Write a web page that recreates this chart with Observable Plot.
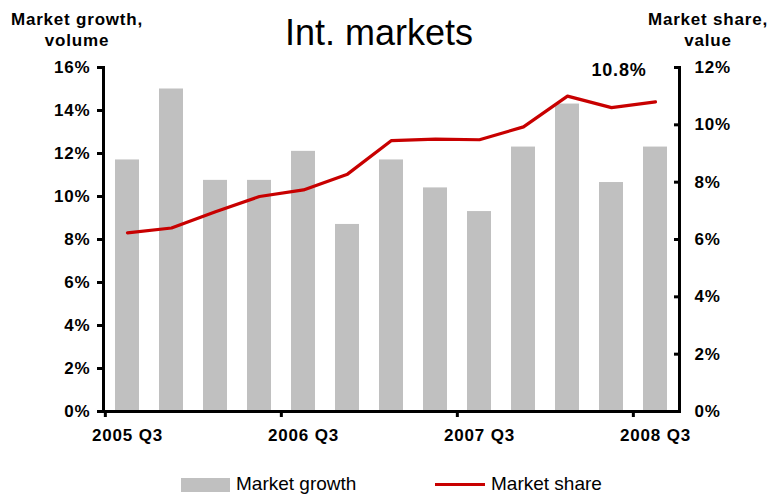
<!DOCTYPE html>
<html>
<head>
<meta charset="utf-8">
<script src="https://cdn.jsdelivr.net/npm/d3@7"></script>
<script src="https://cdn.jsdelivr.net/npm/@observablehq/plot@0.6"></script>
<style>
  html, body { margin: 0; padding: 0; background: #fff; }
  #wrap { position: relative; width: 770px; height: 495px; overflow: hidden; font-family: "Liberation Sans", Arial, sans-serif; color: #000; }
  #wrap svg { position: absolute; left: 0; top: 0; }
  .t { position: absolute; white-space: nowrap; }
  .title { font-size: 36px; left: 0; width: 758px; text-align: center; top: 12px; line-height: 42px; }
  .ax { font-size: 17px; font-weight: bold; letter-spacing: 0.8px; text-align: center; line-height: 21px; top: 9px; }
  .leg { font-size: 19px; line-height: 22px; top: 473px; }
  .sw { position: absolute; }
</style>
</head>
<body>
<div id="wrap">
  <div class="t title">Int. markets</div>
  <div class="t ax" style="left:0px;width:154px;">Market growth,<br>volume</div>
  <div class="t ax" style="left:640px;width:136px;">Market share,<br>value</div>
  <div class="sw" style="left:181px;top:478px;width:49px;height:14px;background:#c0c0c0;"></div>
  <div class="t leg" style="left:236px;">Market growth</div>
  <div class="sw" style="left:435px;top:483px;width:50px;height:3px;background:#c80000;"></div>
  <div class="t leg" style="left:491px;">Market share</div>
</div>
<script>
const quarters = ["2005 Q3","2005 Q4","2006 Q1","2006 Q2","2006 Q3","2006 Q4","2007 Q1","2007 Q2","2007 Q3","2007 Q4","2008 Q1","2008 Q2","2008 Q3"];
const growth = [11.7, 15.0, 10.75, 10.75, 12.1, 8.7, 11.7, 10.4, 9.3, 12.3, 14.3, 10.65, 12.3];
const share = [6.23, 6.4, 6.97, 7.5, 7.73, 8.28, 9.45, 9.5, 9.48, 9.93, 11.0, 10.6, 10.8];
const leftTicks = [0, 2, 4, 6, 8, 10, 12, 14, 16];
const rightTicks = [0, 2, 4, 6, 8, 10, 12];
const xLabels = ["2005 Q3", "2006 Q3", "2007 Q3", "2008 Q3"];

const leftMax = 16, rightMax = 12;
const k = leftMax / rightMax;
const data = quarters.map((q, i) => ({q, growth: growth[i], share: share[i]}));
const last = [data[data.length - 1]];

const W = 770, H = 495, mL = 103, mR = 91, mT = 67, mB = 84;
const step = (W - mL - mR) / quarters.length;
const blank = () => "";

const chart = Plot.plot({
  width: W, height: H,
  marginLeft: mL, marginRight: mR, marginTop: mT, marginBottom: mB,
  style: {fontFamily: "'Liberation Sans', Arial, sans-serif", fontSize: "17px", fontWeight: "bold", letterSpacing: "0.8px", color: "#000", background: "transparent", overflow: "visible"},
  x: {type: "band", domain: quarters, paddingInner: 0.46, paddingOuter: 0.23, align: 0.5},
  y: {domain: [0, leftMax]},
  marks: [
    Plot.barY(data, {x: "q", y: "growth", fill: "#c0c0c0"}),
    Plot.line(data, {x: "q", y: d => d.share * k, stroke: "#c80000", strokeWidth: 3.2}),
    Plot.text(last, {x: "q", y: d => d.share * k, text: d => d.share.toFixed(1) + "%", textAnchor: "end", lineAnchor: "bottom", dx: -9, dy: -26, fontSize: 18, fontWeight: "bold"}),
    // left axis
    Plot.axisY({ticks: leftTicks, tickFormat: d => d + "%", tickSize: 6, tickPadding: 7, strokeWidth: 3, label: null}),
    // right axis ticks (inward) and labels
    Plot.axisY({anchor: "right", ticks: rightTicks.map(v => v * k), tickFormat: blank, tickSize: 6, dx: -6, strokeWidth: 3, label: null}),
    Plot.axisY({anchor: "right", ticks: rightTicks.map(v => v * k), tickFormat: d => Math.round(d / k) + "%", tickSize: 0, tickPadding: 15, label: null}),
    // x axis: ticks at category boundaries, labels at centres
    Plot.axisX({ticks: xLabels, tickFormat: blank, tickSize: 6, dx: -step / 2, strokeWidth: 3, label: null}),
    Plot.axisX({ticks: xLabels, tickSize: 0, tickPadding: 17, label: null}),
    Plot.frame({anchor: "left", strokeWidth: 3}),
    Plot.frame({anchor: "right", strokeWidth: 3}),
    Plot.ruleY([0], {strokeWidth: 3})
  ]
});
document.getElementById("wrap").prepend(chart);
</script>
</body>
</html>
